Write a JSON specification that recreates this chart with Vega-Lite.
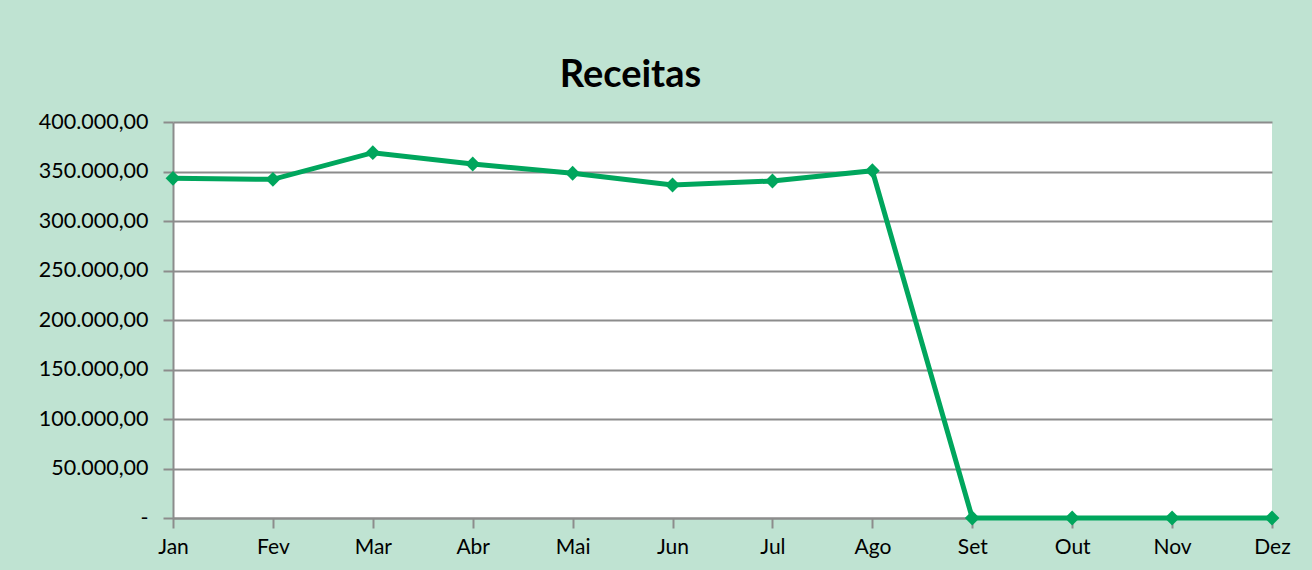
{
  "$schema": "https://vega.github.io/schema/vega-lite/v6.json",
  "width": 1099,
  "height": 396,
  "autosize": {"type": "none"},
  "padding": {"left": 173, "top": 122, "right": 40, "bottom": 52},
  "background": "#BFE3D2",
  "config": {
    "locale": {"number": {"decimal": ",", "thousands": ".", "grouping": [3], "currency": ["R$ ", ""]}},
    "view": {"fill": "white", "stroke": null},
    "font": "Lato"
  },
  "title": {
    "text": "Receitas",
    "fontSize": 38,
    "fontWeight": "bold",
    "color": "black",
    "anchor": "middle",
    "dx": -92,
    "offset": -14,
    "baseline": "alphabetic"
  },
  "data": {
    "values": [
      {"mes": "Jan", "receita": 343100},
      {"mes": "Fev", "receita": 342100},
      {"mes": "Mar", "receita": 369000},
      {"mes": "Abr", "receita": 357600},
      {"mes": "Mai", "receita": 348200},
      {"mes": "Jun", "receita": 336400},
      {"mes": "Jul", "receita": 340400},
      {"mes": "Ago", "receita": 350800},
      {"mes": "Set", "receita": 0},
      {"mes": "Out", "receita": 0},
      {"mes": "Nov", "receita": 0},
      {"mes": "Dez", "receita": 0}
    ]
  },
  "encoding": {
    "x": {
      "field": "mes",
      "type": "ordinal",
      "sort": null,
      "scale": {"type": "point", "padding": 0},
      "axis": {
        "title": null,
        "labelAngle": 0,
        "labelFontSize": 21,
        "labelColor": "black",
        "tickColor": "#8C8C8C",
        "tickSize": 10,
        "tickWidth": 2,
        "domainColor": "#8C8C8C",
        "domainWidth": 2,
        "labelPadding": 8,
        "grid": false
      }
    },
    "y": {
      "field": "receita",
      "type": "quantitative",
      "scale": {"domain": [0, 400000], "nice": false},
      "axis": {
        "title": null,
        "values": [0, 50000, 100000, 150000, 200000, 250000, 300000, 350000, 400000],
        "format": ",.2f",
        "labelExpr": "datum.value == 0 ? '-   ' : datum.label",
        "labelFontSize": 21.5,
        "labelColor": "black",
        "tickColor": "#8C8C8C",
        "tickSize": 10,
        "tickWidth": 2,
        "domainColor": "#8C8C8C",
        "domainWidth": 2,
        "gridColor": "#8C8C8C",
        "gridWidth": 2,
        "labelPadding": 15
      }
    }
  },
  "layer": [
    {"mark": {"type": "line", "color": "#00A65D", "strokeWidth": 5, "clip": false}},
    {"mark": {"type": "point", "shape": "diamond", "filled": true, "color": "#00A65D", "size": 220, "opacity": 1, "clip": false}}
  ]
}
